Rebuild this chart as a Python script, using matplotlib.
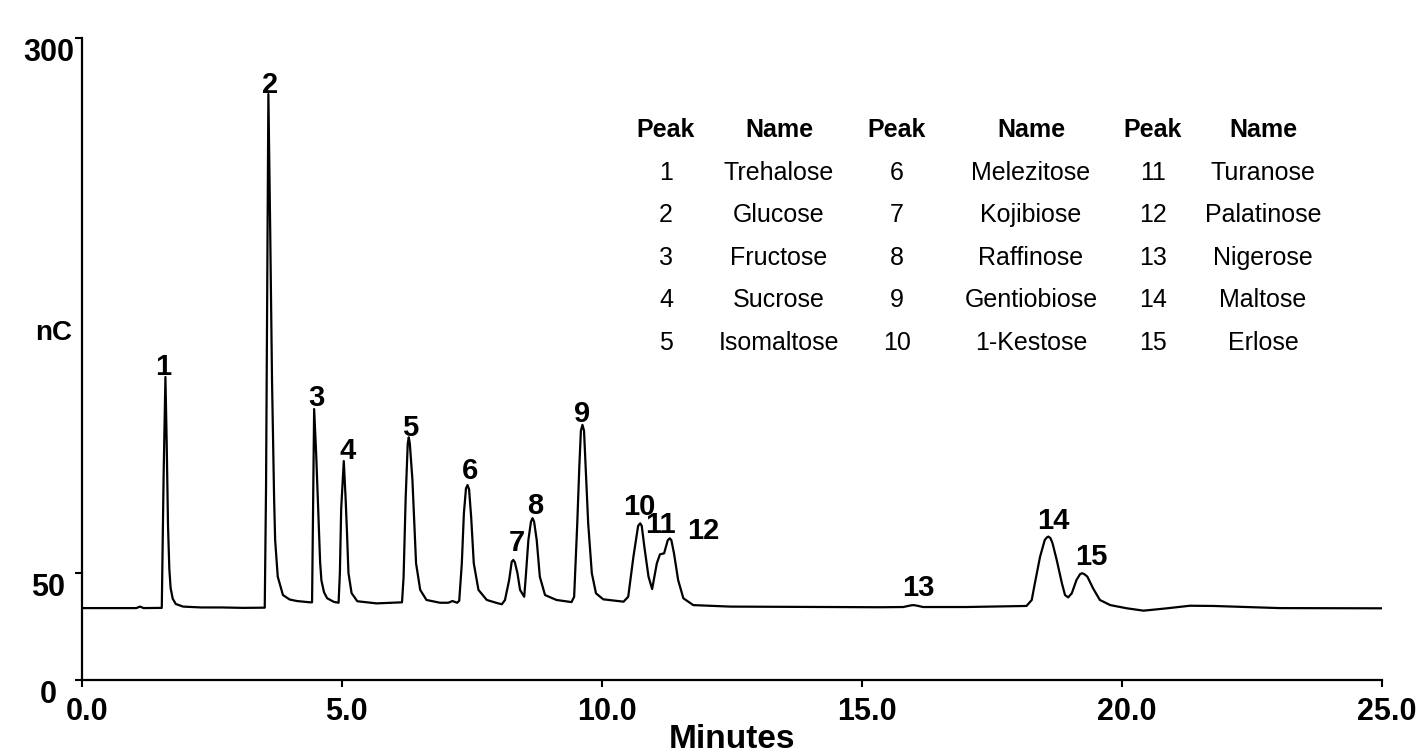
import matplotlib
matplotlib.use("Agg")
import matplotlib.pyplot as plt
from matplotlib.transforms import ScaledTranslation

plt.rcParams['font.family'] = ['Liberation Sans', 'DejaVu Sans']

# chromatogram trace (minutes, nC)
time_min = [
    0.00, 0.60, 1.05, 1.12, 1.19, 1.54,
    1.575, 1.61, 1.635, 1.66, 1.685, 1.71, 1.75, 1.81, 1.95, 2.30, 2.70, 3.10, 3.52,
    3.545, 3.59, 3.625, 3.66, 3.70, 3.72, 3.77, 3.87, 4.00, 4.14, 4.39,
    4.43, 4.45, 4.47, 4.51, 4.555, 4.585, 4.61, 4.66, 4.72, 4.85, 4.94,
    4.965, 4.99, 5.04, 5.075, 5.10, 5.13, 5.19, 5.30, 5.67, 6.16,
    6.19, 6.23, 6.27, 6.29, 6.31, 6.36, 6.43, 6.51, 6.63, 6.89, 7.05, 7.13, 7.22,
    7.26, 7.31, 7.35, 7.39, 7.42, 7.45, 7.49, 7.54, 7.63, 7.79, 8.01, 8.08,
    8.14, 8.22, 8.27, 8.30, 8.33, 8.38, 8.43, 8.51,
    8.54, 8.59, 8.64, 8.67, 8.70, 8.75, 8.81, 8.91, 9.13, 9.42,
    9.47, 9.53, 9.57, 9.60, 9.63, 9.66, 9.69, 9.74, 9.81, 9.89, 10.03, 10.42,
    10.51, 10.61, 10.70, 10.74, 10.77, 10.82, 10.90, 10.97,
    11.06, 11.12, 11.20, 11.27, 11.31, 11.34, 11.39, 11.47, 11.57, 11.76, 12.47,
    13.50, 15.35, 15.80, 15.93, 15.99, 16.05, 16.18, 17.00, 18.17,
    18.27, 18.33, 18.43, 18.52, 18.56, 18.59, 18.63, 18.67, 18.75, 18.85, 18.91, 18.97,
    19.04, 19.13, 19.20, 19.24, 19.28, 19.34, 19.45, 19.58, 19.78, 20.10, 20.42, 20.87,
    21.31, 21.76, 22.40, 23.04, 25.00,
]
signal_nc = [
    33.6, 33.6, 33.6, 34.3, 33.6, 33.7,
    95.0, 141.6, 110.0, 72.0, 52.0, 43.0, 38.0, 35.5, 34.3, 33.9, 33.9, 33.7, 33.8,
    90.0, 273.8, 210.0, 140.0, 85.0, 65.4, 48.3, 39.7, 37.6, 36.9, 36.3,
    36.3, 80.0, 126.6, 105.0, 75.0, 55.0, 46.5, 41.0, 38.2, 36.5, 36.1,
    50.0, 80.0, 102.3, 85.0, 70.0, 50.0, 40.6, 36.8, 35.8, 36.3,
    48.0, 85.0, 110.5, 113.4, 110.5, 93.5, 54.5, 42.1, 37.4, 36.1, 36.1, 36.9, 36.1,
    37.0, 54.5, 78.0, 89.5, 91.1, 89.0, 76.0, 54.5, 42.1, 37.4, 35.8, 35.4,
    37.4, 46.7, 55.3, 56.1, 55.0, 49.9, 42.1, 38.9,
    48.3, 65.4, 74.0, 75.6, 74.0, 65.4, 48.3, 39.7, 37.4, 36.4,
    38.9, 73.2, 100.0, 116.5, 119.2, 116.5, 100.0, 73.2, 49.9, 40.5, 37.7, 36.6,
    38.9, 57.6, 72.0, 73.2, 72.0, 62.3, 48.3, 42.5,
    54.5, 58.7, 59.2, 65.3, 66.2, 65.3, 59.2, 46.7, 38.2, 35.0, 34.3,
    34.2, 34.0, 34.1, 34.8, 35.0, 34.8, 34.1, 34.1, 34.6,
    37.4, 45.2, 57.6, 65.4, 66.6, 67.0, 66.3, 63.9, 56.1, 45.2, 39.7, 38.6,
    40.5, 46.7, 49.5, 49.9, 49.5, 48.3, 42.8, 37.4, 35.0, 33.5, 32.4, 33.5,
    34.7, 34.6, 34.1, 33.6, 33.5,
]

# peak number labels (where the numbers sit, in minutes / nC)
peak_ids = [str(i) for i in range(1, 16)]
label_t = [1.56, 3.62, 4.52, 5.12, 6.31, 7.47, 8.37, 8.72, 9.62, 10.72, 11.12, 11.95, 16.08, 18.68, 19.41]
label_v = [146.3, 278.0, 131.8, 107.0, 117.8, 97.7, 64.0, 81.3, 124.3, 80.8, 72.4, 69.6, 43.0, 74.3, 57.5]

peak_names = ['Trehalose', 'Glucose', 'Fructose', 'Sucrose', 'Isomaltose',
              'Melezitose', 'Kojibiose', 'Raffinose', 'Gentiobiose', '1-Kestose',
              'Turanose', 'Palatinose', 'Nigerose', 'Maltose', 'Erlose']

x_ticks = [0, 5, 10, 15, 20, 25]
x_ticklabels = ['0.0', '5.0', '10.0', '15.0', '20.0', '25.0']
y_ticks = [0, 50, 300]
y_ticklabels = ['0', '50', '300']

W, H = 1426, 756
fig = plt.figure(figsize=(W / 100, H / 100), dpi=100)
ax = fig.add_axes([81.7 / W, 1 - 680 / H, 1300 / W, 642 / H])

ax.plot(time_min, signal_nc, color='black', lw=1.6)

ax.set_xlim(0, 25)
ax.set_ylim(0, 300)
for s in ['top', 'right']:
    ax.spines[s].set_visible(False)
for s in ['left', 'bottom']:
    ax.spines[s].set_linewidth(1.6)

ax.set_xticks(x_ticks)
ax.set_xticklabels(x_ticklabels, fontsize=22, fontweight='bold')
ax.set_yticks(y_ticks)
ax.set_yticklabels(y_ticklabels, fontsize=22, fontweight='bold')
ax.tick_params(axis='both', direction='out', length=5, width=1.5)
ax.tick_params(axis='x', pad=7)
ax.tick_params(axis='y', pad=19)
for lab in ax.get_xticklabels():
    lab.set_transform(lab.get_transform() + ScaledTranslation(5 / 100, 0, fig.dpi_scale_trans))
for lab in ax.get_yticklabels():
    lab.set_horizontalalignment('center')
    lab.set_verticalalignment('top')

ax.set_xlabel('Minutes', fontsize=24, fontweight='bold', labelpad=-2)
fig.text(72 / W, 1 - 333 / H, 'nC', fontsize=20, fontweight='bold', ha='right', va='center')

for pid, t, v in zip(peak_ids, label_t, label_v):
    ax.text(t, v, pid, fontsize=21, fontweight='bold', ha='center', va='center')

# peak table
col_x = [666, 779, 897, 1031, 1153, 1263]
row_y = [130, 173, 215, 258, 300, 343]
for c in range(3):
    fig.text(col_x[2 * c] / W, 1 - row_y[0] / H, 'Peak', fontsize=18, fontweight='bold',
             ha='center', va='center')
    fig.text(col_x[2 * c + 1] / W, 1 - row_y[0] / H, 'Name', fontsize=18, fontweight='bold',
             ha='center', va='center')
    for r in range(5):
        k = c * 5 + r
        fig.text(col_x[2 * c] / W, 1 - row_y[r + 1] / H, str(k + 1), fontsize=18,
                 ha='center', va='center')
        fig.text(col_x[2 * c + 1] / W, 1 - row_y[r + 1] / H, peak_names[k], fontsize=18,
                 ha='center', va='center')

fig.savefig('out.png', dpi=100)
